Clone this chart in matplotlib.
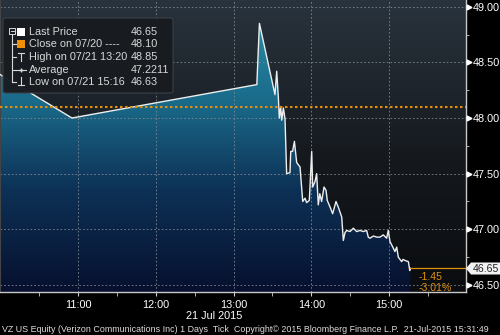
import numpy as np
import matplotlib
matplotlib.use("Agg")
import matplotlib.pyplot as plt
from matplotlib.patches import FancyBboxPatch, Polygon, Rectangle
from matplotlib.lines import Line2D
from matplotlib.colors import LinearSegmentedColormap
import matplotlib.transforms as mtransforms

plt.rcParams["font.family"] = ["Liberation Sans", "DejaVu Sans"]

# ---------------- data ----------------
times = ["10:00:00", "10:55:20", "13:18:00", "13:20:00", "13:32:00", "13:33:20",
         "13:34:35", "13:35:20", "13:36:25", "13:37:10", "13:38:30", "13:39:45",
         "13:41:00", "13:43:35", "13:44:10", "13:45:35", "13:47:00", "13:48:45",
         "13:51:20", "13:53:25", "13:55:10", "13:56:25", "13:58:30", "14:00:20",
         "14:01:05", "14:02:55", "14:04:10", "14:05:25", "14:06:35", "14:08:00",
         "14:09:50", "14:11:25", "14:12:20", "14:14:30", "14:16:30", "14:19:05",
         "14:20:50", "14:23:30", "14:24:45", "14:26:00", "14:27:20", "14:29:55",
         "14:32:30", "14:35:00", "14:37:35", "14:40:10", "14:42:45", "14:44:00",
         "14:45:20", "14:47:55", "14:50:30", "14:53:00", "14:55:35", "14:58:10",
         "14:59:25", "15:00:45", "15:02:55", "15:04:35", "15:05:55", "15:07:10",
         "15:09:45", "15:10:50", "15:12:20", "15:14:55", "15:16:00", "15:16:30"]
prices = [48.39, 48.00, 48.30, 48.85, 48.21, 48.42,
          48.19, 48.00, 48.10, 47.98, 48.09, 47.99,
          47.50, 47.51, 47.70, 47.70, 47.79, 47.60,
          47.56, 47.25, 47.28, 47.24, 47.26, 47.70,
          47.38, 47.43, 47.50, 47.22, 47.32, 47.25,
          47.38, 47.35, 47.26, 47.20, 47.14, 47.25,
          47.20, 47.11, 46.90, 46.97, 46.99, 46.98,
          47.01, 46.98, 46.99, 46.98, 46.99, 46.93,
          46.92, 46.94, 46.93, 46.93, 46.95, 46.92,
          46.99, 46.89, 46.84, 46.80, 46.84, 46.75,
          46.71, 46.73, 46.72, 46.71, 46.63, 46.65]
x_tick_hours = [11, 12, 13, 14, 15]
x_tick_labels = ["11:00", "12:00", "13:00", "14:00", "15:00"]
y_ticks = [46.5, 47.0, 47.5, 48.0, 48.5, 49.0]
legend_labels = ["Last Price", "Close on 07/20 ----", "High on 07/21 13:20",
                 "Average", "Low on 07/21 15:16"]
legend_values = ["46.65", "48.10", "48.85", "47.2211", "46.63"]
last_price = 46.65
prev_close = 48.10
change_text = "-1.45"
change_pct_text = "-3.01%"
date_label = "21 Jul 2015"
footer = ("VZ US Equity (Verizon Communications Inc) 1 Days  Tick  "
          "Copyright\u00a9 2015 Bloomberg Finance L.P.  21-Jul-2015 15:31:49")


def to_hours(s):
    h, m, sec = map(int, s.split(":"))
    return h + m / 60 + sec / 3600


x = np.array([to_hours(t) for t in times])
y = np.array(prices)

# ---------------- figure ----------------
W, H = 500, 335
fig = plt.figure(figsize=(W / 100, H / 100), dpi=100, facecolor="black")
ax = fig.add_axes([0.0, 43 / H, 466 / W, 292 / H])
ax.set_facecolor("black")

xmin, xmax = 9.997, 15.99
ymin, ymax = 46.437, 49.06

grad = np.linspace(0, 1, 256).reshape(-1, 1)
bg_cmap = LinearSegmentedColormap.from_list(
    "bg", [(0, "#0a0c0f"), (0.45, "#15191e"), (1, "#29333d")])
ax.imshow(grad, extent=[xmin, xmax, ymin, ymax], origin="lower",
          aspect="auto", cmap=bg_cmap, zorder=0, interpolation="bilinear")

fill_cmap = LinearSegmentedColormap.from_list(
    "fill", [(0, "#07102e"), (0.35, "#0d3156"), (0.65, "#1a6a8a"), (1, "#2b93ab")])
im = ax.imshow(grad, extent=[xmin, xmax, ymin, ymax], origin="lower",
               aspect="auto", cmap=fill_cmap, zorder=1, interpolation="bilinear")
poly = ax.fill_between(x, y, ymin, facecolor="none", edgecolor="none")
im.set_clip_path(poly.get_paths()[0], transform=ax.transData)

# price line
ax.plot(x, y, color="#eeeeee", lw=1.0, zorder=3)

# previous close
ax.axhline(prev_close, color="#e0900c", lw=1.5, ls=(0, (1.2, 1.2)), zorder=4)

# last price line
ax.plot([x[-1], xmax], [last_price, last_price], color="#e0900c", lw=0.9, zorder=4)

ax.text(x[-1] + 0.11, last_price - 0.08, change_text, color="#e0900c",
        fontsize=7.6, va="center", ha="left", zorder=5)
ax.text(x[-1] + 0.10, last_price - 0.18, change_pct_text, color="#e0900c",
        fontsize=7.6, va="center", ha="left", zorder=5)

# ticks and grid
ax.set_xticks(x_tick_hours)
ax.set_xticklabels(x_tick_labels)
ax.set_xticks([h - 0.5 for h in x_tick_hours] + [x_tick_hours[-1] + 0.5], minor=True)
ax.set_yticks(y_ticks)
ax.set_yticklabels([f"{v:.2f}" for v in y_ticks])
ax.set_yticks([v + 0.25 for v in y_ticks[:-1]], minor=True)
ax.grid(True, which="major", color="#7d8790", lw=0.6, ls=(0, (2, 2.5)), zorder=2)

ax.set_xlim(xmin, xmax)
ax.set_ylim(ymin, ymax)

# spines
ax.spines["top"].set_visible(False)
ax.spines["left"].set_color("#444444")
ax.spines["right"].set_color("#c8c8c8")
ax.spines["bottom"].set_color("#c8c8c8")
ax.spines["right"].set_linewidth(1.0)
ax.spines["bottom"].set_linewidth(1.0)
ax.yaxis.tick_right()
ax.tick_params(axis="y", which="major", length=0, pad=5, labelsize=7.8,
               labelcolor="white")
ax.tick_params(axis="y", which="minor", length=2.5, color="#cccccc", direction="out")
ax.tick_params(axis="x", which="major", length=3, color="#cccccc", pad=2.5,
               labelsize=7.8, labelcolor="white")
ax.tick_params(axis="x", which="minor", length=3, color="#cccccc")

# triangle markers at y ticks
tr = mtransforms.blended_transform_factory(ax.transAxes, ax.transData)
ax.plot([1.0 + 3 / 466] * len(y_ticks), y_ticks, ls="none", marker=">",
        markersize=3.5, color="white", transform=tr, clip_on=False, zorder=6)


def fx(px):
    return px / W


def fy(py):
    return 1 - py / H


# last price box
box = Polygon([(fx(466), fy(268.5)), (fx(471), fy(262.5)), (fx(500), fy(262.5)),
               (fx(500), fy(274.5)), (fx(471), fy(274.5))], closed=True,
              facecolor="#f2f2f2", edgecolor="none", transform=fig.transFigure)
fig.add_artist(box)
fig.text(fx(486), fy(268.5), f"{last_price:.2f}", color="#222222", fontsize=7.6,
         ha="center", va="center")

# x-axis date label and footer
fig.text(fx(214), fy(316), date_label, color="white", fontsize=7.8,
         ha="center", va="center")
fig.text(fx(2), fy(329), footer, color="#dddddd", fontsize=6.4,
         ha="left", va="center")

# legend box
leg = FancyBboxPatch((fx(3), fy(93)), fx(170), 75 / H,
                     boxstyle="round,pad=0,rounding_size=0.006",
                     facecolor="#181c21", edgecolor="#3b4148", lw=0.8,
                     transform=fig.transFigure, alpha=0.97)
fig.add_artist(leg)
row_y = [32, 44, 57, 70, 82]
lc = "#d8d8d8"
for lab, val, ry in zip(legend_labels, legend_values, row_y):
    fig.text(fx(29), fy(ry), lab, color=lc, fontsize=7.8, ha="left", va="center")
    fig.text(fx(131), fy(ry), val, color=lc, fontsize=7.8, ha="left", va="center")

tf = fig.transFigure


def fline(xs, ys, color=lc, lw=0.8):
    fig.add_artist(Line2D([fx(v) for v in xs], [fy(v) for v in ys],
                          color=color, lw=lw, transform=tf))


# tree lines
fline([12, 12], [34, 82])
for ry in row_y[1:]:
    fline([12, 16], [ry, ry])
# expander box
fig.add_artist(Rectangle((fx(9), fy(34)), 6 / W, 6 / H, facecolor="none",
                         edgecolor=lc, lw=0.7, transform=tf))
fline([10.5, 13.5], [31, 31], lw=0.7)
# white square
fig.add_artist(Rectangle((fx(17), fy(36)), 8 / W, 8 / H, facecolor="white",
                         edgecolor="none", transform=tf))
# orange square
fig.add_artist(Rectangle((fx(17), fy(48)), 8 / W, 8 / H, facecolor="#f0900a",
                         edgecolor="none", transform=tf))
# high symbol
fline([21, 21], [53, 61])
fline([18, 24], [53, 53])
# average symbol
fline([16, 26], [70, 70])
fig.add_artist(Line2D([fx(21)], [fy(70)], marker="+", markersize=3.5, color=lc,
                      transform=tf, lw=0))
# low symbol
fline([21, 21], [77, 85])
fline([18, 24], [85, 85])

fig.savefig("out.png", dpi=100, facecolor="black")
